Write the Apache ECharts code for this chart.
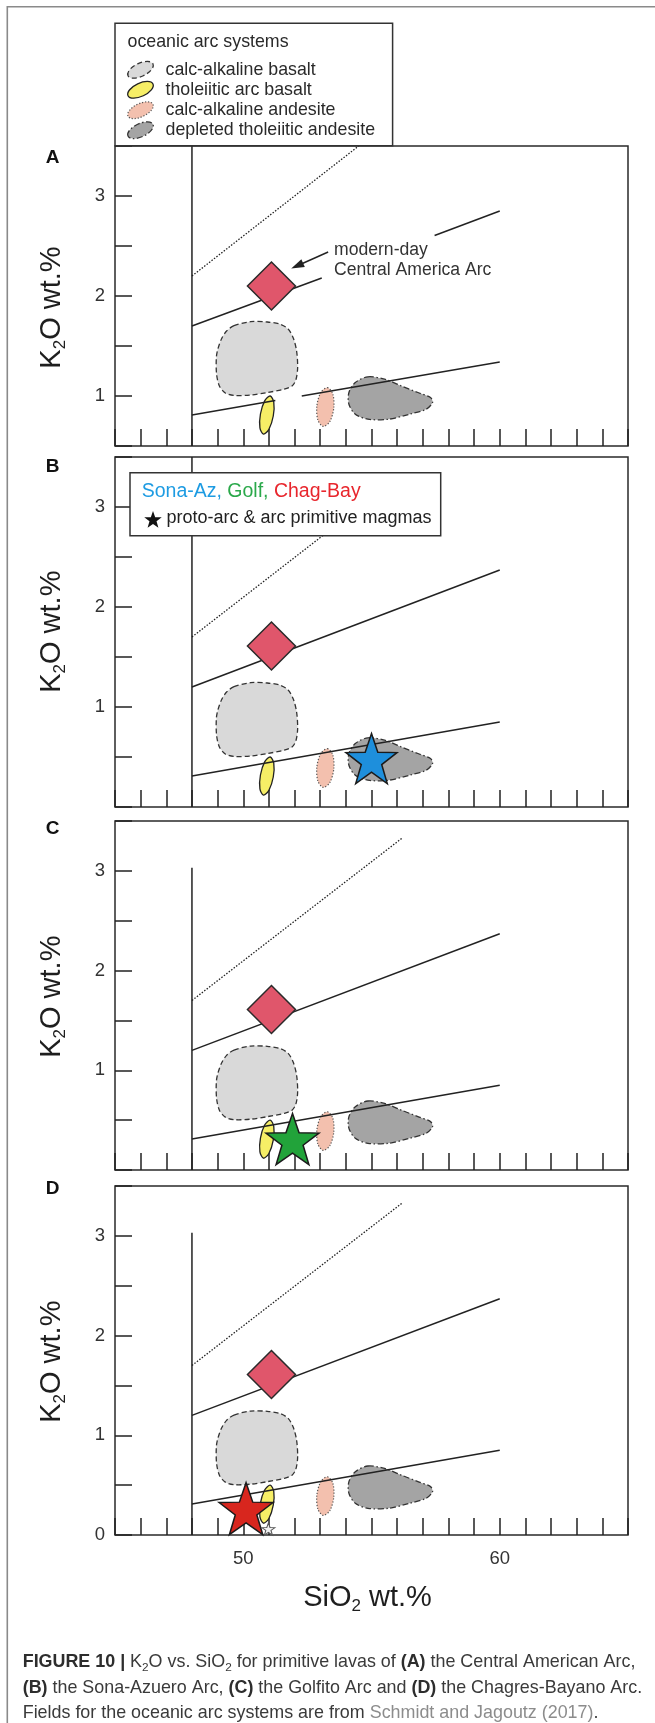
<!DOCTYPE html>
<html><head><meta charset="utf-8">
<script src="https://cdn.jsdelivr.net/npm/echarts@6/dist/echarts.min.js"></script>
<style>html,body{margin:0;padding:0;background:#fff}#c{width:655px;height:1723px}</style>
</head><body><div id="c"></div>
<script>
// ================= DATA =================
const panelNames = ['A', 'B', 'C', 'D'];
const xTickLabels = [50, 60];
const yTickLabelsA = [1, 2, 3];
const yTickLabelsBC = [1, 2, 3];
const yTickLabelsD = [0, 1, 2, 3];

// ---- Panel A (y axis 0.5 – 3.5) ----
const caBasaltA = [[49.64,1.703],[50.29,1.743],[50.94,1.74],[51.43,1.719],[51.75,1.67],[51.95,1.58],[52.08,1.45],[52.12,1.28],[52.05,1.16],[51.9,1.10],[51.6,1.068],[50.94,1.035],[50.29,1.01],[49.64,1.005],[49.3,1.03],[49.07,1.10],[48.96,1.22],[48.95,1.38],[49.0,1.46],[49.15,1.57],[49.35,1.65]];
const thBasaltA = [[51.05,1.0],[51.19,0.938],[51.17,0.80],[51.0,0.666],[50.79,0.618],[50.65,0.682],[50.67,0.82],[50.84,0.954]];
const caAndesiteA = [[53.28,1.084],[53.49,1.021],[53.53,0.881],[53.38,0.746],[53.12,0.696],[52.91,0.759],[52.87,0.899],[53.02,1.034]];
const depAndesiteA = [[54.86,1.192],[55.51,1.168],[56.16,1.101],[56.81,1.035],[57.3,0.985],[57.38,0.935],[57.13,0.868],[56.48,0.818],[55.67,0.768],[54.86,0.768],[54.37,0.818],[54.12,0.918],[54.12,1.035],[54.37,1.135]];
const vertLineA = [[48,0.5],[48,3.5]];
const dottedA = [[48,2.2],[54.5,3.5]];
const upperA1 = [[48,1.7],[53.06,2.18]];
const upperA2 = [[57.46,2.605],[60,2.85]];
const lowerA1 = [[48,0.81],[51.25,0.955]];
const lowerA2 = [[52.28,1.0],[60,1.34]];
const diamondA = [[51.1,2.1]];
const arrowA = [[53.31,2.44],[51.87,2.275]];

// ---- Panels B, C, D (y axis 0 – 3.5) ----
const caBasalt = [[49.64,1.203],[50.29,1.243],[50.94,1.24],[51.43,1.219],[51.75,1.17],[51.95,1.08],[52.08,0.95],[52.12,0.78],[52.05,0.66],[51.9,0.60],[51.6,0.568],[50.94,0.535],[50.29,0.51],[49.64,0.505],[49.3,0.53],[49.07,0.60],[48.96,0.72],[48.95,0.88],[49.0,0.96],[49.15,1.07],[49.35,1.15]];
const thBasalt = [[51.05,0.50],[51.19,0.438],[51.17,0.30],[51.0,0.166],[50.79,0.118],[50.65,0.182],[50.67,0.32],[50.84,0.454]];
const caAndesite = [[53.28,0.584],[53.49,0.521],[53.53,0.381],[53.38,0.246],[53.12,0.196],[52.91,0.259],[52.87,0.399],[53.02,0.534]];
const depAndesite = [[54.86,0.692],[55.51,0.668],[56.16,0.601],[56.81,0.535],[57.3,0.485],[57.38,0.435],[57.13,0.368],[56.48,0.318],[55.67,0.268],[54.86,0.268],[54.37,0.318],[54.12,0.418],[54.12,0.535],[54.37,0.635]];
const vertLineB = [[48,0],[48,3.5]];
const vertLineCD = [[48,0],[48,3.03]];
const dottedBCD = [[48,1.7],[56.2,3.33]];
const upperBCD = [[48,1.2],[60,2.37]];
const lowerBCD = [[48,0.31],[60,0.85]];
const diamondBCD = [[51.1,1.61]];
const starB = [[55.0,0.485]];
const starC = [[51.92,0.31]];
const starD = [[50.11,0.264]];
const smallStarD = [[50.98,0.06]];

// ================= STYLE / LAYOUT =================
const FONT = "'Liberation Sans', Arial, Helvetica, sans-serif";
const INK = '#222';
const STAR = 'path://M0,-50 L11.76,-16.18 L47.55,-15.45 L19.02,6.18 L29.39,40.45 L0,20 L-29.39,40.45 L-19.02,6.18 L-47.55,-15.45 L-11.76,-16.18 Z';
const legendStarPts = [[0,-9.2],[2.17,-2.99],[8.75,-2.84],[3.52,1.14],[5.41,7.44],[0,3.7],[-5.41,7.44],[-3.52,1.14],[-8.75,-2.84],[-2.17,-2.99]];

const gridTops = [146, 457, 821, 1186];
const gridHeights = [300, 350, 349, 349];
const yMins = [0.5, 0, 0, 0];
const yLabelSets = [yTickLabelsA, yTickLabelsBC, yTickLabelsBC, yTickLabelsD];

const stCaB = {fill:'#d9d9d9', stroke:'#333', lineWidth:1.3, lineDash:[5,3]};
const stThB = {fill:'#f6ee66', stroke:'#222', lineWidth:1.3};
const stCaA = {fill:'#f3c0ae', stroke:'#555', lineWidth:1.2, lineDash:[1.2,1.8]};
const stDep = {fill:'#a4a4a4', stroke:'#333', lineWidth:1.3, lineDash:[6,2.5,1.5,2.5]};

const grids = gridTops.map((t, i) => ({
  left: 115, width: 513, top: t, height: gridHeights[i],
  show: true, borderColor: '#2a2a2a', borderWidth: 1.5, backgroundColor: 'transparent'
}));
const xAxes = gridTops.map((t, i) => ({
  type: 'value', gridIndex: i, min: 45, max: 65, interval: 1,
  axisLine: {show: false}, splitLine: {show: false},
  axisTick: {show: true, inside: true, length: 17, lineStyle: {color: INK, width: 1.5}},
  axisLabel: {show: i === 3, margin: 14, color: '#333', fontSize: 18.5, fontFamily: FONT,
    formatter: v => xTickLabels.includes(v) ? String(v) : ''}
}));
const yAxes = gridTops.map((t, i) => ({
  type: 'value', gridIndex: i, min: yMins[i], max: 3.5, interval: 0.5,
  axisLine: {show: false}, splitLine: {show: false},
  axisTick: {show: true, inside: true, length: 17, lineStyle: {color: INK, width: 1.5}},
  axisLabel: {show: true, margin: 10, color: '#333', fontSize: 18.5, fontFamily: FONT,
    formatter: v => yLabelSets[i].includes(v) ? String(v) : ''}
}));

const series = [];
function field(gi, pts, st) {
  series.push({type: 'custom', xAxisIndex: gi, yAxisIndex: gi, z: 2, silent: true, data: [pts[0]],
    renderItem: (params, api) => ({type: 'polygon', shape: {points: pts.map(p => api.coord(p)), smooth: 0.3}, style: st})});
}
function seg(gi, pts, kind) {
  series.push({type: 'line', xAxisIndex: gi, yAxisIndex: gi, z: 3, silent: true, data: pts, symbol: 'none',
    lineStyle: kind === 'dot' ? {color: INK, width: 1.3, type: [1.5, 1.6]} : {color: INK, width: 1.5, type: 'solid'}});
}
function diamond(gi, pts) {
  series.push({type: 'scatter', xAxisIndex: gi, yAxisIndex: gi, z: 5, silent: true, data: pts,
    symbol: 'diamond', symbolSize: [48, 48],
    itemStyle: {color: '#e0566b', borderColor: '#2a2a2a', borderWidth: 1.5, opacity: 1}});
}
function star(gi, pts, color, size, border, bw) {
  series.push({type: 'scatter', xAxisIndex: gi, yAxisIndex: gi, z: 6, silent: true, data: pts,
    symbol: STAR, symbolSize: size,
    itemStyle: {color: color, borderColor: border, borderWidth: bw, opacity: 1}});
}

// Panel A
field(0, caBasaltA, stCaB); field(0, thBasaltA, stThB); field(0, caAndesiteA, stCaA); field(0, depAndesiteA, stDep);
seg(0, vertLineA); seg(0, dottedA, 'dot'); seg(0, upperA1); seg(0, upperA2); seg(0, lowerA1); seg(0, lowerA2);
diamond(0, diamondA);
series.push({type: 'custom', xAxisIndex: 0, yAxisIndex: 0, z: 4, silent: true, data: [arrowA[0]],
  renderItem: (params, api) => {
    const p0 = api.coord(arrowA[0]), p1 = api.coord(arrowA[1]);
    const dx = p1[0] - p0[0], dy = p1[1] - p0[1], L = Math.hypot(dx, dy), ux = dx / L, uy = dy / L;
    const hl = 13, hw = 4.2, bx = p1[0] - ux * hl, by = p1[1] - uy * hl;
    return {type: 'group', children: [
      {type: 'line', shape: {x1: p0[0], y1: p0[1], x2: bx + ux * 2, y2: by + uy * 2}, style: {stroke: INK, lineWidth: 1.4}},
      {type: 'polygon', shape: {points: [[p1[0], p1[1]], [bx - uy * hw, by + ux * hw], [bx + uy * hw, by - ux * hw]]}, style: {fill: INK}}
    ]};
  }});
// Panels B, C, D
for (let gi = 1; gi <= 3; gi++) {
  field(gi, caBasalt, stCaB); field(gi, thBasalt, stThB); field(gi, caAndesite, stCaA); field(gi, depAndesite, stDep);
  seg(gi, gi === 1 ? vertLineB : vertLineCD); seg(gi, dottedBCD, 'dot'); seg(gi, upperBCD); seg(gi, lowerBCD);
  diamond(gi, diamondBCD);
}
star(1, starB, '#1e8fdc', [51, 50], '#1b1b1b', 1.5);
star(2, starC, '#22a33a', [53, 51], '#1b1b1b', 1.5);
star(3, starD, '#d8261e', [54, 52], '#1b1b1b', 1.5);
star(3, smallStarD, '#f0f0f0', [13, 12], '#555', 1);

// ================= GRAPHIC (frame, legends, titles, caption) =================
function txt(x, y, text, size, opts) {
  return Object.assign({type: 'text', x: x, y: y, z: 110, silent: true,
    style: Object.assign({text: text, fontSize: size, fontFamily: FONT, fill: '#2a2a2a',
      align: 'left', verticalAlign: 'middle', textAlign: 'left', textVerticalAlign: 'middle'}, opts && opts.style || {})},
    opts && opts.el || {});
}
const graphics = [];
graphics.push({type: 'polyline', z: 1, silent: true, shape: {points: [[7.3, 1723], [7.3, 6.7], [655, 6.7]]}, style: {stroke: '#8a8a8a', lineWidth: 1.6, fill: null}});

// legend A
graphics.push({type: 'rect', z: 100, silent: true, shape: {x: 115, y: 23.3, width: 277.6, height: 122.4}, style: {fill: '#fff', stroke: '#333', lineWidth: 1.5}});
graphics.push(txt(127.5, 42.3, 'oceanic arc systems', 17.8));
const legA = [['calc-alkaline basalt', stCaB], ['tholeiitic arc basalt', stThB], ['calc-alkaline andesite', stCaA], ['depleted tholeiitic andesite', stDep]];
const legRowsY = [69.8, 89.8, 110.2, 130.2];
legA.forEach((r, k) => {
  graphics.push({type: 'ellipse', z: 105, silent: true, x: 140.5, y: legRowsY[k], rotation: 0.44,
    shape: {cx: 0, cy: 0, rx: 13.8, ry: 6.6}, style: Object.assign({}, r[1])});
  graphics.push(txt(165.5, legRowsY[k], r[0], 17.8));
});

// legend B
graphics.push({type: 'rect', z: 100, silent: true, shape: {x: 130, y: 472.7, width: 310.7, height: 63}, style: {fill: '#fff', stroke: '#333', lineWidth: 1.5}});
graphics.push(txt(141.7, 491.5, '{b|Sona-Az, }{g|Golf, }{r|Chag-Bay}', 19.5, {style: {rich: {
  b: {fill: '#1d9be2', fontSize: 19.5, fontFamily: FONT}, g: {fill: '#2aa84a', fontSize: 19.5, fontFamily: FONT}, r: {fill: '#e8262d', fontSize: 19.5, fontFamily: FONT}}}}));
graphics.push({type: 'polygon', z: 110, silent: true, x: 153, y: 520.2, shape: {points: legendStarPts}, style: {fill: '#111'}});
graphics.push(txt(166.5, 518.5, 'proto-arc & arc primitive magmas', 18, {style: {fill: '#222'}}));

// panel letters
const letterY = [157.8, 466.3, 828.3, 1188.3];
panelNames.forEach((n, i) => graphics.push(txt(52.5, letterY[i], n, 19, {style: {fontWeight: 'bold', fill: '#111', align: 'center', textAlign: 'center'}})));

// y titles
const yTitleY = [307.5, 631.7, 996.7, 1361.7];
yTitleY.forEach(y => graphics.push({type: 'text', x: 52, y: y, rotation: Math.PI / 2, z: 110, silent: true,
  style: {text: '{a|K}{s|2}{a|O wt.%}', fontFamily: FONT, fontSize: 29, fill: '#1e1e1e', align: 'center', verticalAlign: 'middle', textAlign: 'center', textVerticalAlign: 'middle',
    rich: {a: {fontSize: 29, lineHeight: 34, fontFamily: FONT, fill: '#1e1e1e'}, s: {fontSize: 17, lineHeight: 16, verticalAlign: 'bottom', fontFamily: FONT, fill: '#1e1e1e'}}}}));
// x title
graphics.push({type: 'text', x: 367.5, y: 1598, z: 110, silent: true,
  style: {text: '{a|SiO}{s|2}{a| wt.%}', fontFamily: FONT, fontSize: 29, fill: '#1e1e1e', align: 'center', verticalAlign: 'middle', textAlign: 'center', textVerticalAlign: 'middle',
    rich: {a: {fontSize: 29, lineHeight: 34, fontFamily: FONT, fill: '#1e1e1e'}, s: {fontSize: 17, lineHeight: 16, verticalAlign: 'bottom', fontFamily: FONT, fill: '#1e1e1e'}}}});

// annotation A
graphics.push(txt(334, 250.5, 'modern-day', 17.6, {style: {fill: '#333'}}));
graphics.push(txt(334, 270.5, 'Central America Arc', 17.6, {style: {fill: '#333'}}));

// caption
const CAP = 17.9;
const capRich = {
  b: {fontWeight: 'bold', fontSize: CAP, lineHeight: 22, fontFamily: FONT, fill: '#2d2d2d'},
  n: {fontSize: CAP, lineHeight: 22, fontFamily: FONT, fill: '#3a3a3a'},
  s: {fontSize: 11.8, lineHeight: 12, verticalAlign: 'bottom', fontFamily: FONT, fill: '#3a3a3a'},
  g: {fontSize: CAP, lineHeight: 22, fontFamily: FONT, fill: '#8c8c8c'}
};
const capLines = [
  '{b|FIGURE 10 | }{n|K}{s|2}{n|O vs. SiO}{s|2}{n| for primitive lavas of }{b|(A)}{n| the Central American Arc,}',
  '{b|(B)}{n| the Sona-Azuero Arc, }{b|(C)}{n| the Golfito Arc and }{b|(D)}{n| the Chagres-Bayano Arc.}',
  '{n|Fields for the oceanic arc systems are from }{g|Schmidt and Jagoutz (2017)}{n|.}'
];
const capY = [1662.5, 1688.3, 1712.7];
capLines.forEach((t, i) => graphics.push(txt(22.7, capY[i], t, CAP, {style: {rich: capRich}})));

const chart = echarts.init(document.getElementById('c'), null, {renderer: 'canvas'});
chart.setOption({
  animation: false,
  backgroundColor: '#fff',
  grid: grids, xAxis: xAxes, yAxis: yAxes, series: series,
  graphic: {elements: graphics}
});
</script></body></html>
